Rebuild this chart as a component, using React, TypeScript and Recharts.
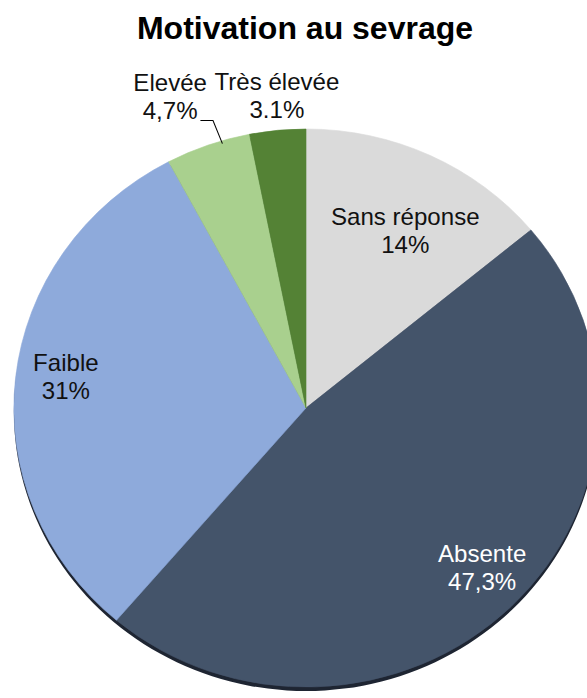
import React from 'react';
import { PieChart, Pie, Cell } from 'recharts';

const categories = ['Sans réponse', 'Absente', 'Faible', 'Elevée', 'Très élevée'];
const values = [14, 47.3, 31, 4.7, 3.1];
const valueLabels = ['14%', '47,3%', '31%', '4,7%', '3.1%'];
const sliceColors = ['#dadada', '#44546a', '#8eaadb', '#a9d08e', '#548235'];
const labelColors = ['#111111', '#ffffff', '#111111', '#111111', '#111111'];
const labelRadius = [0.72, 0.83, 0.83, 1.21, 1.125];
const labelAngleNudge = [-3, 2, -1.7, 3, -0.5];

const data = categories.map((name, i) => ({ name, value: values[i] }));
const shadowData = [{ name: 'shadow', value: 1 }];

const FONT = '"Liberation Sans", Arial, sans-serif';
const RAD = Math.PI / 180;

const renderLabel = (props: any) => {
  const { cx, cy, midAngle, outerRadius, index } = props;
  const a = (midAngle + labelAngleNudge[index]) * RAD;
  const r = outerRadius * labelRadius[index];
  const x = cx + r * Math.cos(a);
  const y = cy - r * Math.sin(a);
  let leader: React.ReactNode = null;
  if (index === 3) {
    const ea = (midAngle - 2.8) * RAD;
    const er = outerRadius * 0.99;
    const ex = cx + er * Math.cos(ea);
    const ey = cy - er * Math.sin(ea);
    const bx = ex - 9;
    const by = ey - 23;
    leader = (
      <polyline
        points={`${bx - 12},${by} ${bx},${by} ${ex},${ey}`}
        fill="none"
        stroke="#000"
        strokeWidth={1}
      />
    );
  }
  return (
    <g key={`lbl-${index}`}>
      <text x={x} y={y} textAnchor="middle" fontSize={23} fontFamily={FONT} fill={labelColors[index]}>
        <tspan x={x} dy={-5.5}>{categories[index]}</tspan>
        <tspan x={x} dy={28}>{valueLabels[index]}</tspan>
      </text>
      {leader}
    </g>
  );
};

export default function App() {
  return (
    <div style={{ position: 'absolute', left: 0, top: 0, width: 587, height: 698, overflow: 'hidden', background: '#fff' }}>
      <div style={{ position: 'absolute', left: 0, top: 0, transform: 'scaleX(1.047)', transformOrigin: '306px 0px' }}>
        <PieChart width={587} height={698} margin={{ top: 0, right: 0, bottom: 0, left: 0 }}>
          <Pie
            data={shadowData}
            dataKey="value"
            cx={306}
            cy={412}
            outerRadius={279}
            startAngle={90}
            endAngle={-270}
            stroke="none"
            fill="#1e2532"
            isAnimationActive={false}
            label={false}
            labelLine={false}
          />
          <Pie
            data={data}
            dataKey="value"
            nameKey="name"
            cx={306}
            cy={408}
            outerRadius={279}
            startAngle={90}
            endAngle={-270}
            isAnimationActive={false}
            label={renderLabel}
            labelLine={false}
          >
            {data.map((d, i) => (
              <Cell key={d.name} fill={sliceColors[i]} stroke={sliceColors[i]} strokeWidth={0.6} />
            ))}
          </Pie>
        </PieChart>
      </div>
      <svg width={587} height={60} style={{ position: 'absolute', left: 0, top: 0 }}>
        <text x={305} y={39} textAnchor="middle" fontSize={32} fontWeight="bold" fontFamily={FONT} fill="#000">
          Motivation au sevrage
        </text>
      </svg>
    </div>
  );
}
